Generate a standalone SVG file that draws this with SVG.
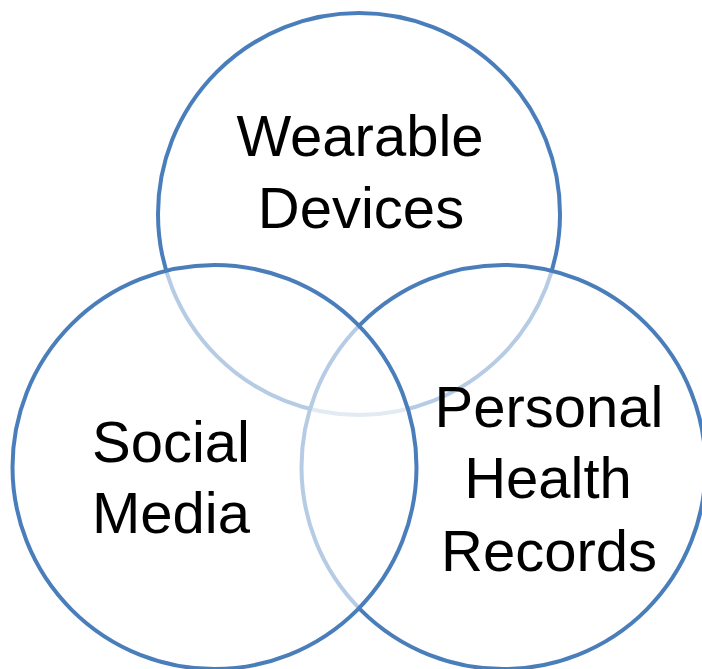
<svg xmlns="http://www.w3.org/2000/svg" width="702" height="669" viewBox="0 0 702 669">
  <style>
    .c { fill: #ffffff; fill-opacity: 0.6; stroke: #4A7EBB; stroke-width: 4; }
    .t { font-family: "Liberation Sans", Arial, sans-serif; font-size: 58px; fill: #000000; text-anchor: middle; }
  </style>
  <rect width="702" height="669" fill="#ffffff"/>
  <g id="node-wearable">
    <circle class="c" cx="359" cy="214" r="201"/>
  </g>
  <g id="node-phr">
    <circle class="c" cx="503.5" cy="467" r="202"/>
  </g>
  <g id="node-social">
    <circle class="c" cx="214.5" cy="467" r="202"/>
  </g>
  <g id="labels">
    <text class="t" x="360" y="156">Wearable</text>
    <text class="t" x="361" y="228">Devices</text>
    <text class="t" x="171" y="462">Social</text>
    <text class="t" x="171" y="533">Media</text>
    <text class="t" x="549" y="427">Personal</text>
    <text class="t" x="548" y="498">Health</text>
    <text class="t" x="549" y="571">Records</text>
  </g>
  <g id="connectors"></g>
</svg>
